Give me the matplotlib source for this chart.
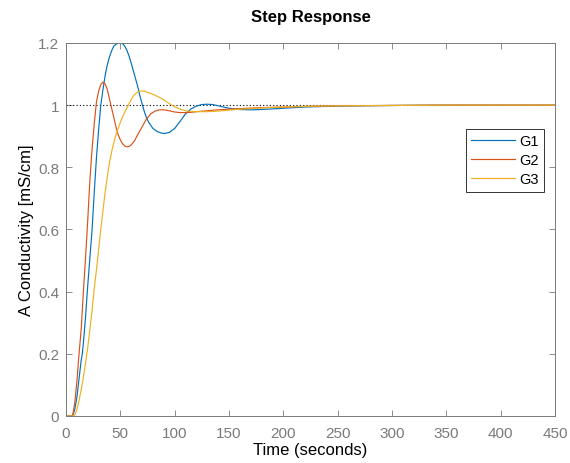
import matplotlib
matplotlib.use('Agg')
import matplotlib.pyplot as plt

plt.rcParams['font.family'] = ['Liberation Sans', 'DejaVu Sans']

# step response samples (time in s, conductivity in mS/cm)
t_g1 = [0, 5, 6, 8, 10, 12, 14, 15, 16, 18, 20, 22, 24, 26, 28, 30, 32, 34, 36, 38, 40,
        42, 44, 46, 48, 50, 52, 54, 56, 58, 60, 62, 64, 66, 68, 70, 72, 74, 76, 78, 80,
        84, 88, 91, 95, 100, 105, 110, 115, 120, 125, 130, 135, 140, 150, 160, 170, 180,
        190, 200, 220, 250, 300, 350, 400, 450]
y_g1 = [0, 0, 0.0, 0.02, 0.06, 0.12, 0.18, 0.2, 0.235, 0.32, 0.42, 0.51, 0.6, 0.72, 0.83,
        0.92, 1.0, 1.05, 1.095, 1.13, 1.155, 1.175, 1.19, 1.196, 1.199, 1.2, 1.198, 1.19,
        1.177, 1.158, 1.135, 1.11, 1.085, 1.06, 1.03, 1.005, 0.98, 0.96, 0.945, 0.935,
        0.925, 0.915, 0.91, 0.909, 0.912, 0.925, 0.948, 0.972, 0.988, 0.997, 1.002, 1.003,
        1.002, 0.998, 0.99, 0.986, 0.985, 0.986, 0.988, 0.99, 0.994, 0.997, 0.999, 1.0,
        1.0, 1.0]

t_g2 = [0, 5, 6, 8, 10, 12, 14, 16, 18, 20, 22, 24, 26, 28, 30, 32, 34, 36, 38, 40, 42,
        44, 46, 48, 50, 52, 54, 56, 58, 60, 63, 66, 70, 74, 78, 82, 86, 90, 95, 100, 105,
        110, 115, 120, 130, 140, 150, 160, 180, 200, 220, 250, 300, 350, 400, 450]
y_g2 = [0, 0, 0.0, 0.04, 0.11, 0.2, 0.28, 0.4, 0.51, 0.63, 0.76, 0.86, 0.94, 1.01, 1.045,
        1.066, 1.074, 1.068, 1.05, 1.02, 0.99, 0.96, 0.93, 0.905, 0.888, 0.876, 0.869,
        0.866, 0.867, 0.872, 0.885, 0.905, 0.93, 0.955, 0.972, 0.981, 0.985, 0.985, 0.982,
        0.978, 0.976, 0.976, 0.977, 0.979, 0.982, 0.985, 0.987, 0.989, 0.992, 0.994,
        0.996, 0.998, 0.999, 1.0, 1.0, 1.0]

t_g3 = [0, 7, 8, 10, 12, 14, 16, 18, 20, 22, 24, 26, 28, 30, 32, 34, 36, 38, 40, 42, 44,
        46, 48, 50, 52, 54, 56, 58, 60, 62, 65, 68, 72, 76, 80, 86, 90, 95, 100, 105, 110,
        115, 120, 130, 140, 150, 160, 180, 200, 220, 250, 300, 350, 400, 450]
y_g3 = [0, 0, 0.003, 0.02, 0.05, 0.085, 0.125, 0.17, 0.22, 0.28, 0.34, 0.41, 0.47, 0.535,
        0.6, 0.66, 0.72, 0.77, 0.815, 0.85, 0.88, 0.905, 0.925, 0.945, 0.962, 0.977, 0.99,
        1.005, 1.018, 1.03, 1.04, 1.046, 1.045, 1.04, 1.035, 1.025, 1.017, 1.005, 0.995,
        0.987, 0.982, 0.98, 0.979, 0.979, 0.981, 0.984, 0.987, 0.991, 0.994, 0.996, 0.998,
        0.999, 1.0, 1.0, 1.0]

series_names = ['G1', 'G2', 'G3']
series_colors = ['#0072BD', '#D95319', '#EDB120']

x_ticks = list(range(0, 451, 50))
y_ticks = [0, 0.2, 0.4, 0.6, 0.8, 1.0, 1.2]
y_tick_labels = ['0', '0.2', '0.4', '0.6', '0.8', '1', '1.2']

axis_grey = '#7a7a7a'

fig = plt.figure(figsize=(5.70, 4.64), dpi=100)
ax = fig.add_axes([0.1158, 0.1013, 0.8579, 0.8039])

# reference level at the final value
ax.plot([0, 450], [1, 1], color='k', linestyle=(0, (1, 2)), linewidth=0.8)

for t, y, name, col in zip([t_g1, t_g2, t_g3], [y_g1, y_g2, y_g3], series_names, series_colors):
    ax.plot(t, y, color=col, linewidth=0.85, label=name)

ax.set_xlim(0, 450)
ax.set_ylim(0, 1.2)
ax.set_xticks(x_ticks)
ax.set_yticks(y_ticks)
ax.set_yticklabels(y_tick_labels)

ax.tick_params(direction='in', length=4, width=0.6, top=True, right=True,
               labelsize=11, colors=axis_grey)
ax.tick_params(axis='x', pad=7)
ax.tick_params(axis='y', pad=5)
for sp in ax.spines.values():
    sp.set_color(axis_grey)
    sp.set_linewidth(0.7)

ax.set_xlabel('Time (seconds)', fontsize=12, color='k', labelpad=2)
ax.set_ylabel('A Conductivity [mS/cm]', fontsize=12, color='k', labelpad=3)
ax.set_title('Step Response', fontsize=12, fontweight='bold', pad=16)

leg = ax.legend(loc='upper right', bbox_to_anchor=(0.9775, 0.769), borderaxespad=0,
                fontsize=10.5, handlelength=3.0, handletextpad=0.3, labelspacing=0.35,
                fancybox=False, framealpha=1, edgecolor='#333333', borderpad=0.35)
leg.get_frame().set_linewidth(0.7)

fig.savefig('out.png', dpi=100)
